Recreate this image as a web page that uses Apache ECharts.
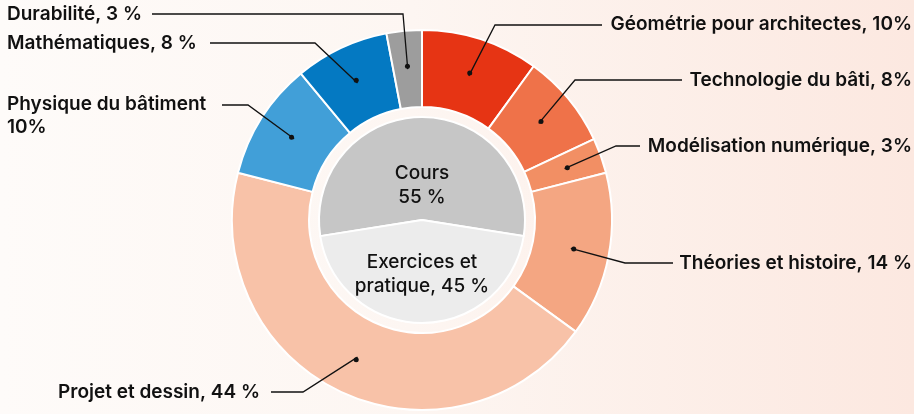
<!DOCTYPE html>
<html>
<head>
<meta charset="utf-8">
<title></title>
<script src="https://cdn.jsdelivr.net/npm/echarts@6/dist/echarts.min.js"></script>
<style>
  html, body { margin: 0; padding: 0; }
  body { background: linear-gradient(90deg, #fefbf9 0%, #fdf6f2 45%, #fce8e0 100%); }
  #chart { width: 914px; height: 414px; }
</style>
</head>
<body>
<div id="chart"></div>
<script>
// outer ring: courses, clockwise from 12 o'clock
var courses = ["Géométrie pour architectes", "Technologie du bâti", "Modélisation numérique",
    "Théories et histoire", "Projet et dessin", "Physique du bâtiment", "Mathématiques", "Durabilité"];
var shares = [10, 8, 3, 14, 44, 10, 8, 3];
var courseLabels = ["Géométrie pour architectes, 10%", "Technologie du bâti, 8%", "Modélisation numérique, 3%",
    "Théories et histoire, 14 %", "Projet et dessin, 44 %", "Physique du bâtiment\n10%",
    "Mathématiques, 8 %", "Durabilité, 3 %"];
var courseColors = ["#e63414", "#ef7249", "#f28f64", "#f4a682", "#f8c2a8", "#419fd8", "#0479c2", "#9d9d9d"];

// inner pie
var parts = ["Cours", "Exercices et pratique"];
var partShares = [55, 45];
var partLabels = ["Cours\n55 %", "Exercices et\npratique, 45 %"];
var partColors = ["#c6c6c6", "#ececec"];

var cx = 422, cy = 220, r0 = 113, r1 = 190;

// where each outer label sits and how its leader line bends
var labelSpots = [
    { x: 912, y: 24, align: "right", lineY: 25, end: 602, bend: 495 },
    { x: 912, y: 80, align: "right", lineY: 80, end: 682, bend: 575 },
    { x: 912, y: 146, align: "right", lineY: 146, end: 640, bend: 616 },
    { x: 912, y: 263, align: "right", lineY: 263, end: 673, bend: 625 },
    { x: 58, y: 392, align: "left", lineY: 392, end: 271, bend: 303 },
    { x: 7, y: 116, align: "left", lineY: 105, end: 222, bend: 248 },
    { x: 7, y: 43, align: "left", lineY: 43, end: 210, bend: 315 },
    { x: 7, y: 14, align: "left", lineY: 14, end: 152, bend: 403 }
];

function dotAt(i) {
    var total = 0, before = 0;
    for (var j = 0; j < shares.length; j++) {
        total += shares[j];
        if (j < i) before += shares[j];
    }
    var a = (before + shares[i] / 2) / total * 2 * Math.PI;
    var r = (r0 + r1) / 2;
    return [cx + r * Math.sin(a), cy - r * Math.cos(a)];
}

var leaders = labelSpots.map(function (s, i) {
    return {
        type: "polyline",
        silent: true,
        shape: { points: [dotAt(i), [s.bend, s.lineY], [s.end, s.lineY]] },
        style: { fill: null, stroke: "#111111", lineWidth: 1.3 },
        z: 10
    };
});

var font = "Inter, 'Noto Sans', sans-serif";

var chart = echarts.init(document.getElementById("chart"), null, { renderer: "canvas" });
chart.setOption({
    backgroundColor: "transparent",
    animation: false,
    graphic: leaders,
    series: [{
        name: "cours",
        type: "pie",
        center: [cx, cy],
        radius: [r0, r1],
        startAngle: 90,
        clockwise: true,
        avoidLabelOverlap: false,
        silent: true,
        itemStyle: { borderColor: "#ffffff", borderWidth: 2 },
        label: {
            show: true,
            position: "outside",
            fontFamily: font,
            fontSize: 19,
            fontWeight: 600,
            lineHeight: 23,
            color: "#111111",
            formatter: function (p) { return courseLabels[p.dataIndex]; }
        },
        labelLine: { show: false },
        labelLayout: function (p) {
            var s = labelSpots[p.dataIndex];
            return { x: s.x, y: s.y, align: s.align, verticalAlign: "middle" };
        },
        data: courses.map(function (c, i) {
            return { name: c, value: shares[i], itemStyle: { color: courseColors[i] } };
        })
    }, {
        name: "dots",
        type: "pie",
        center: [cx, cy],
        radius: [r0, r1],
        startAngle: 90,
        clockwise: true,
        silent: true,
        z: 12,
        itemStyle: { color: "transparent", borderWidth: 0 },
        label: {
            show: true,
            position: "inside",
            formatter: "{d|}",
            rich: { d: { width: 5, height: 5, borderRadius: 3, backgroundColor: "#111111" } }
        },
        labelLine: { show: false },
        data: courses.map(function (c, i) { return { name: c, value: shares[i] }; })
    }, {
        name: "parts",
        type: "pie",
        center: [cx, cy],
        radius: [0, 103],
        startAngle: 189,
        clockwise: true,
        silent: true,
        itemStyle: { borderColor: "#ffffff", borderWidth: 2 },
        label: {
            show: true,
            position: "inside",
            fontFamily: font,
            fontSize: 19,
            fontWeight: 500,
            lineHeight: 24,
            color: "#111111",
            formatter: function (p) { return partLabels[p.dataIndex]; }
        },
        labelLayout: function (p) {
            return { dy: p.dataIndex === 0 ? 20 : 0 };
        },
        data: parts.map(function (c, i) {
            return { name: c, value: partShares[i], itemStyle: { color: partColors[i] } };
        })
    }]
});
</script>
</body>
</html>
